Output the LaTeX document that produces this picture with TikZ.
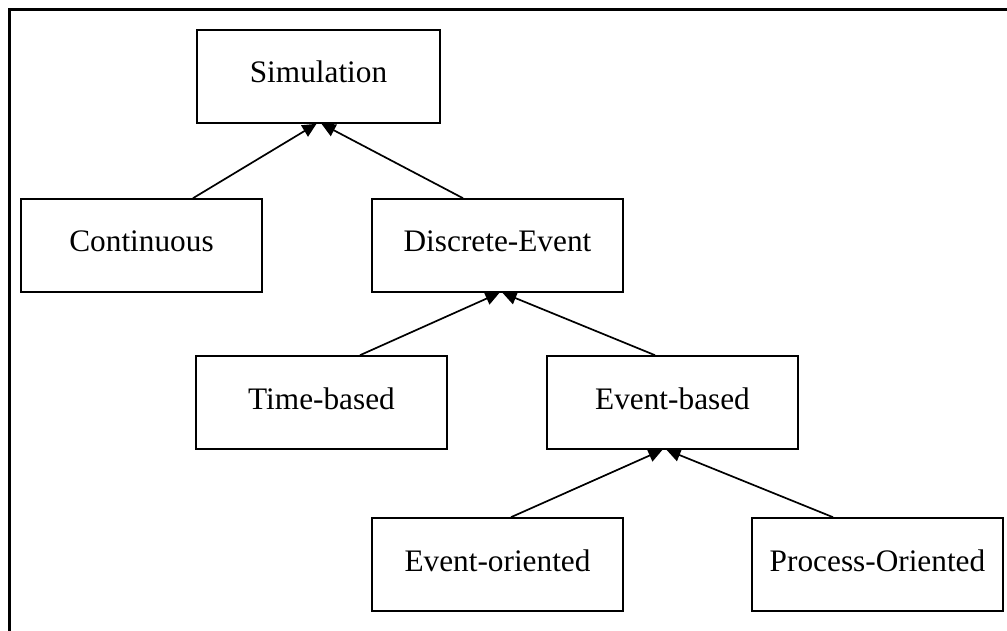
\documentclass[tikz,border=0pt]{standalone}
\usepackage{fontspec}
\setmainfont{Liberation Serif}
\usetikzlibrary{arrows.meta}
\begin{document}
\begin{tikzpicture}[x=1pt,y=-1pt,
  box/.style={draw, line width=1.6pt, minimum width=#1, minimum height=93pt, inner sep=0pt, text height=22pt, text depth=9pt, font=\fontsize{31.3}{37}\selectfont},
  box/.default=251pt,
  conn/.style={line width=1.7pt, -{Triangle[length=14pt,width=13pt]}}]
\useasboundingbox (0,0) rectangle (1007,631);
\draw[line width=3pt] (9,640) -- (9,10) -- (1015,10);
\node[box=243pt] (sim) at (318.5,76.5) {Simulation};
\node[box=241pt] (cont) at (141.5,245.5) {Continuous};
\node[box] (de) at (497.5,245.5) {Discrete-Event};
\node[box] (tb) at (321.5,402.5) {Time-based};
\node[box] (eb) at (672.5,402.5) {Event-based};
\node[box] (eo) at (497.5,564.5) {Event-oriented};
\node[box] (po) at (877.5,564.5) {Process-Oriented};
\draw[conn] ([xshift=51.5pt]cont.north) -- ([xshift=-2pt]sim.south);
\draw[conn] ([xshift=-34.5pt]de.north) -- ([xshift=3pt]sim.south);
\draw[conn] ([xshift=38.5pt]tb.north) -- ([xshift=2pt]de.south);
\draw[conn] ([xshift=-17.5pt]eb.north) -- ([xshift=5pt]de.south);
\draw[conn] ([xshift=13.5pt]eo.north) -- ([xshift=-10pt]eb.south);
\draw[conn] ([xshift=-44.5pt]po.north) -- ([xshift=-6pt]eb.south);
\end{tikzpicture}
\end{document}
